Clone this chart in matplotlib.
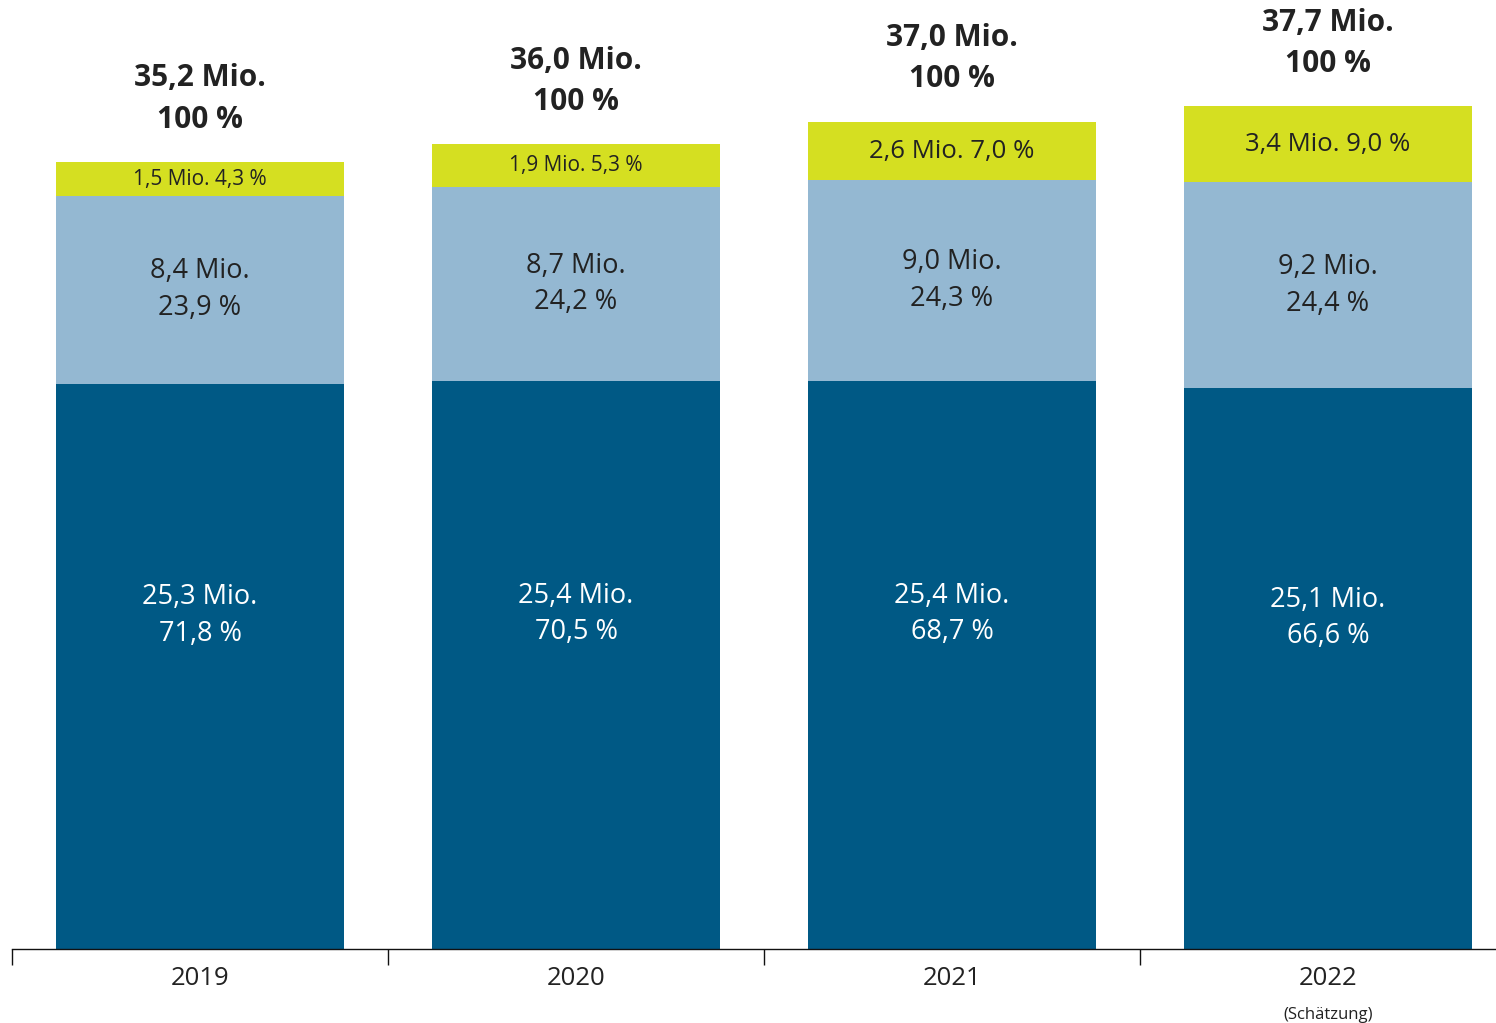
import matplotlib
matplotlib.use("Agg")
import matplotlib.pyplot as plt

# --- data ---
years = ["2019", "2020", "2021", "2022"]
dark_vals = [25.3, 25.4, 25.4, 25.1]
light_vals = [8.4, 8.7, 9.0, 9.2]
yellow_vals = [1.5, 1.9, 2.6, 3.4]
totals = [35.2, 36.0, 37.0, 37.7]
dark_pct = ["71,8 %", "70,5 %", "68,7 %", "66,6 %"]
light_pct = ["23,9 %", "24,2 %", "24,3 %", "24,4 %"]
yellow_pct = ["4,3 %", "5,3 %", "7,0 %", "9,0 %"]

# --- colors ---
DARK = "#005985"
LIGHT = "#94b8d2"
YELLOW = "#d5df21"
TEXT = "#222222"

plt.rcParams["font.family"] = ["Open Sans", "DejaVu Sans"]


def de(v):
    return f"{v:.1f}".replace(".", ",")


fig = plt.figure(figsize=(14.96, 10.23), dpi=100)
ax = fig.add_axes([12 / 1496, 1 - 949 / 1023, 1 - 12 / 1496, 949 / 1023])

x = list(range(len(years)))
w = 0.765
ax.bar(x, dark_vals, width=w, color=DARK, linewidth=0)
ax.bar(x, light_vals, width=w, bottom=dark_vals, color=LIGHT, linewidth=0)
bottoms = [d + l for d, l in zip(dark_vals, light_vals)]
ax.bar(x, yellow_vals, width=w, bottom=bottoms, color=YELLOW, linewidth=0)

ax.set_xlim(-0.5, -0.5 + 1484 / 376)
ax.set_ylim(0, 949 / 22.35)

for i in x:
    # dark segment
    ax.text(i, dark_vals[i] * 0.59, f"{de(dark_vals[i])} Mio.\n{dark_pct[i]}",
            ha="center", va="center", color="white", fontsize=19.5, linespacing=1.42)
    # light segment
    ax.text(i, dark_vals[i] + light_vals[i] / 2, f"{de(light_vals[i])} Mio.\n{light_pct[i]}",
            ha="center", va="center", color=TEXT, fontsize=19.5, linespacing=1.42)
    # yellow segment
    fs = 15 if yellow_vals[i] < 2 else 18.5
    ax.text(i, bottoms[i] + yellow_vals[i] / 2, f"{de(yellow_vals[i])} Mio. {yellow_pct[i]}",
            ha="center", va="center", color=TEXT, fontsize=fs)
    # total
    ax.annotate(f"{de(totals[i])} Mio.\n100 %", (i, totals[i]), xytext=(0, 20),
                textcoords="offset points", ha="center", va="bottom",
                color=TEXT, fontsize=21.5, fontweight="bold", linespacing=1.48)

for s in ["top", "right", "left"]:
    ax.spines[s].set_visible(False)
ax.spines["bottom"].set_color("#111111")
ax.spines["bottom"].set_linewidth(1.0)
ax.set_yticks([])

ax.set_xticks(x)
ax.set_xticklabels(years, fontsize=18.5, color=TEXT)
ax.tick_params(axis="x", which="major", length=0, pad=12)
ax.set_xticks([-0.5, 0.5, 1.5, 2.5], minor=True)
ax.tick_params(axis="x", which="minor", length=11.5, width=1.0, color="#111111")

ax.text(3, -0.07, "(Schätzung)", transform=ax.get_xaxis_transform(),
        ha="center", va="center", fontsize=12, color=TEXT)

fig.savefig("out.png", dpi=100, facecolor="white")
